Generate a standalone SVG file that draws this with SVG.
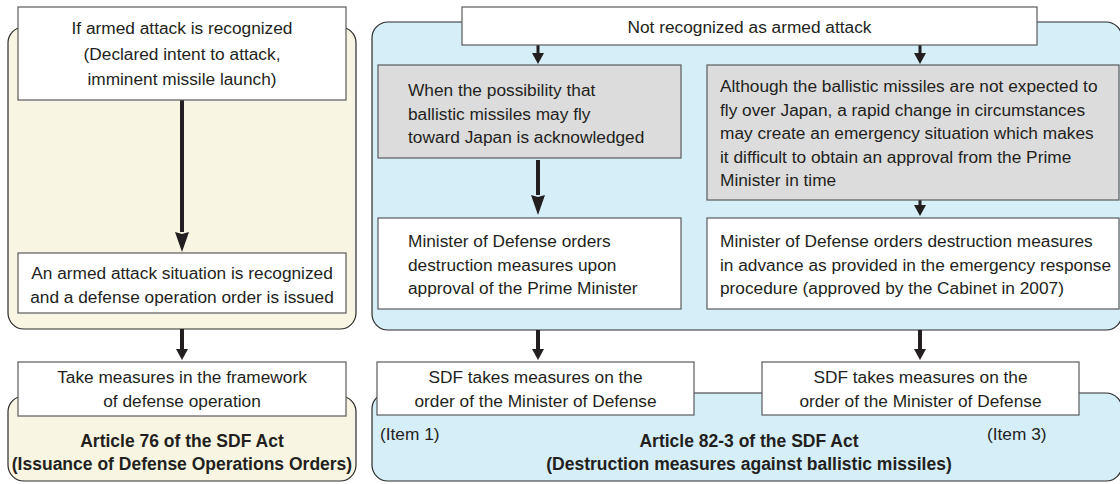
<svg xmlns="http://www.w3.org/2000/svg" width="1120" height="484" viewBox="0 0 1120 484">
<defs>
<style>
.t{font-family:"Liberation Sans",Arial,sans-serif;font-size:17.3px;fill:#231f20}
.c{text-anchor:middle}
.b{font-weight:bold;font-size:17.5px}
.panelY{fill:#f8f6e2;stroke:#2b2b2b;stroke-width:1.2}
.panelB{fill:#d6eef8;stroke:#2b2b2b;stroke-width:1.2}
.box{fill:#fff;stroke:#5a5a5a;stroke-width:1.2}
.gbox{fill:#dcdcdc;stroke:#5a5a5a;stroke-width:1.2}
.sh{stroke:#231f20;stroke-width:4;fill:none}
.shs{stroke:#231f20;stroke-width:3;fill:none}
</style>
<marker id="big" markerUnits="userSpaceOnUse" viewBox="0 0 20 14" refX="0" refY="7" markerWidth="20" markerHeight="14" orient="auto"><path d="M0,0 L20,7 L0,14 L2,7 z" fill="#231f20"/></marker>
<marker id="small" markerUnits="userSpaceOnUse" viewBox="0 0 11 12" refX="0" refY="6" markerWidth="11" markerHeight="12" orient="auto"><path d="M0,0 L11,6 L0,12 z" fill="#231f20"/></marker>
</defs>

<g id="panel-left-top"><rect class="panelY" x="8" y="27" width="348" height="302" rx="16"/></g>
<g id="panel-left-bottom"><rect class="panelY" x="8" y="396" width="348" height="85" rx="16"/></g>
<g id="panel-right-top"><rect class="panelB" x="372" y="22" width="750" height="308" rx="16"/></g>
<g id="panel-right-bottom"><rect class="panelB" x="372" y="393" width="750" height="88" rx="16"/></g>

<g id="connectors">
<line class="sh" x1="182" y1="100" x2="182" y2="232" marker-end="url(#big)"/>
<line class="sh" x1="182" y1="329" x2="182" y2="349" marker-end="url(#small)"/>
<line class="shs" x1="538" y1="45" x2="538" y2="53" marker-end="url(#small)"/>
<line class="shs" x1="920" y1="45" x2="920" y2="53" marker-end="url(#small)"/>
<line class="sh" x1="538" y1="160" x2="538" y2="195" marker-end="url(#big)"/>
<line class="shs" x1="920" y1="200" x2="920" y2="205" marker-end="url(#small)"/>
<line class="sh" x1="538" y1="330" x2="538" y2="349" marker-end="url(#small)"/>
<line class="sh" x1="920" y1="330" x2="920" y2="349" marker-end="url(#small)"/>
</g>

<g id="node-armed-recognized">
<rect class="box" x="18" y="7" width="328" height="93"/>
<text class="t c" x="182" y="34">If armed attack is recognized</text>
<text class="t c" x="182" y="60">(Declared intent to attack,</text>
<text class="t c" x="182" y="85">imminent missile launch)</text>
</g>

<g id="node-armed-situation">
<rect class="box" x="18" y="253" width="328" height="60"/>
<text class="t c" x="182" y="279">An armed attack situation is recognized</text>
<text class="t c" x="182" y="303">and a defense operation order is issued</text>
</g>

<g id="node-take-measures">
<rect class="box" x="18" y="362" width="328" height="54"/>
<text class="t c" x="182" y="383">Take measures in the framework</text>
<text class="t c" x="182" y="407">of defense operation</text>
</g>

<g id="label-article76">
<text class="t c b" x="182" y="447">Article 76 of the SDF Act</text>
<text class="t c b" x="182" y="470">(Issuance of Defense Operations Orders)</text>
</g>

<g id="node-not-recognized">
<rect class="box" x="462" y="7" width="575" height="38"/>
<text class="t c" x="749.5" y="33">Not recognized as armed attack</text>
</g>

<g id="node-possibility">
<rect class="gbox" x="378" y="65" width="303" height="93"/>
<text class="t" x="408" y="96">When the possibility that</text>
<text class="t" x="408" y="119.5">ballistic missiles may fly</text>
<text class="t" x="408" y="143">toward Japan is acknowledged</text>
</g>

<g id="node-although">
<rect class="gbox" x="707" y="65" width="412" height="135"/>
<text class="t" x="720" y="92">Although the ballistic missiles are not expected to</text>
<text class="t" x="720" y="115.5">fly over Japan, a rapid change in circumstances</text>
<text class="t" x="720" y="139">may create an emergency situation which makes</text>
<text class="t" x="720" y="162.5">it difficult to obtain an approval from the Prime</text>
<text class="t" x="720" y="186">Minister in time</text>
</g>

<g id="node-orders-approval">
<rect class="box" x="378" y="218" width="303" height="91"/>
<text class="t" x="408" y="247">Minister of Defense orders</text>
<text class="t" x="408" y="270.5">destruction measures upon</text>
<text class="t" x="408" y="294">approval of the Prime Minister</text>
</g>

<g id="node-orders-advance">
<rect class="box" x="707" y="218" width="412" height="91"/>
<text class="t" x="720" y="247">Minister of Defense orders destruction measures</text>
<text class="t" x="720" y="270.5">in advance as provided in the emergency response</text>
<text class="t" x="720" y="294">procedure (approved by the Cabinet in 2007)</text>
</g>

<g id="node-sdf-1">
<rect class="box" x="377" y="362" width="317" height="53"/>
<text class="t c" x="535.5" y="383">SDF takes measures on the</text>
<text class="t c" x="535.5" y="407">order of the Minister of Defense</text>
</g>

<g id="node-sdf-3">
<rect class="box" x="762" y="362" width="317" height="53"/>
<text class="t c" x="920.5" y="383">SDF takes measures on the</text>
<text class="t c" x="920.5" y="407">order of the Minister of Defense</text>
</g>

<g id="label-article82">
<text class="t" x="380" y="440">(Item 1)</text>
<text class="t" x="987" y="440">(Item 3)</text>
<text class="t c b" x="749" y="447">Article 82-3 of the SDF Act</text>
<text class="t c b" x="749" y="470">(Destruction measures against ballistic missiles)</text>
</g>
</svg>
